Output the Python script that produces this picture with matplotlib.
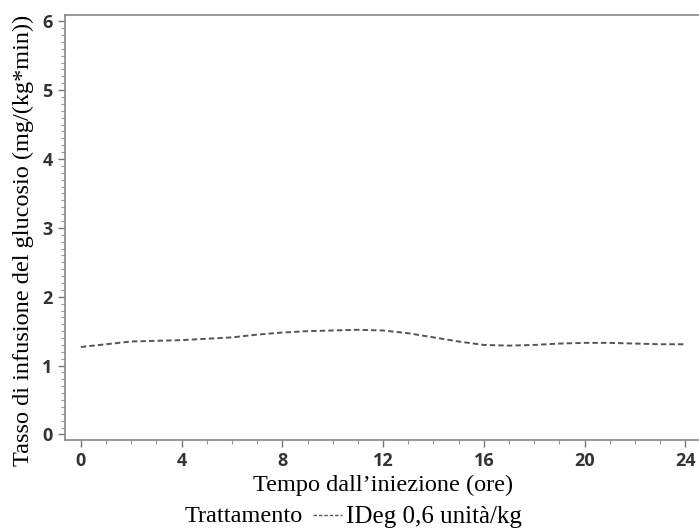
import numpy as np
import matplotlib
matplotlib.use("Agg")
import matplotlib.pyplot as plt
from matplotlib.lines import Line2D
from matplotlib.ticker import MultipleLocator

# ore dall'iniezione e tasso di infusione del glucosio
ore = [0, 1, 2, 3, 4, 5, 6, 7, 8, 9, 10, 11, 12,
       13, 14, 15, 16, 17, 18, 19, 20, 21, 22, 23, 24]
gir = [1.27, 1.31, 1.35, 1.36, 1.37, 1.39, 1.41, 1.45, 1.48, 1.50, 1.51, 1.52, 1.51,
       1.47, 1.41, 1.35, 1.30, 1.29, 1.30, 1.32, 1.33, 1.33, 1.32, 1.31, 1.31]
xticks = [0, 4, 8, 12, 16, 20, 24]
yticks = [0, 1, 2, 3, 4, 5, 6]
etichetta = "IDeg 0,6 unità/kg"

serif = "Liberation Serif"
tickfont = dict(family="Open Sans", size=13, weight="bold")

fig = plt.figure(figsize=(6.99, 5.31), dpi=100)
ax = fig.add_axes([65 / 699, 1 - 440 / 531, 1 - 65 / 699 + 0.002, (440 - 15) / 531])

ax.plot(ore, gir, color="#555555", lw=1.4, dashes=(2.8, 1.6))

ax.set_xlim(-0.63, 24.6)
ax.set_ylim(-0.08, 6.09)
ax.set_xticks(xticks)
ax.set_yticks(yticks)
ax.xaxis.set_minor_locator(MultipleLocator(1))
ax.yaxis.set_minor_locator(MultipleLocator(0.1))
ax.set_xticklabels([str(v) for v in xticks], fontdict=tickfont, color="#333333")
ax.set_yticklabels([str(v) for v in yticks], fontdict=tickfont, color="#333333")
ax.tick_params(which="major", length=5, width=1, color="#777777", pad=4)
ax.tick_params(which="minor", length=3, width=0.8, color="#999999")

for s in ["left", "bottom", "top"]:
    ax.spines[s].set_color("#888888")
    ax.spines[s].set_linewidth(1.2)
ax.spines["right"].set_visible(False)

fig.text(383.5 / 699, 1 - 485 / 531, "Tempo dall\u2019iniezione (ore)",
         family=serif, fontsize=17.5, ha="center", va="center")
fig.text(23 / 699, 1 - 240 / 531, "Tasso di infusione del glucosio (mg/(kg*min))",
         family=serif, fontsize=17.5, ha="center", va="center", rotation=90)

# legenda in basso
fig.text(185 / 699, 1 - 517 / 531, "Trattamento", family=serif, fontsize=17.5,
         ha="left", va="center")
h = Line2D([], [], color="#555555", lw=1.0, dashes=(2.5, 1.4))
fig.legend(handles=[h], labels=[etichetta], loc="center left",
           bbox_to_anchor=(313 / 699, 1 - 517 / 531), frameon=False,
           prop=dict(family=serif, size=18), handlelength=1.15, handletextpad=0.15,
           borderpad=0, borderaxespad=0)

fig.savefig("out.png", dpi=100)
